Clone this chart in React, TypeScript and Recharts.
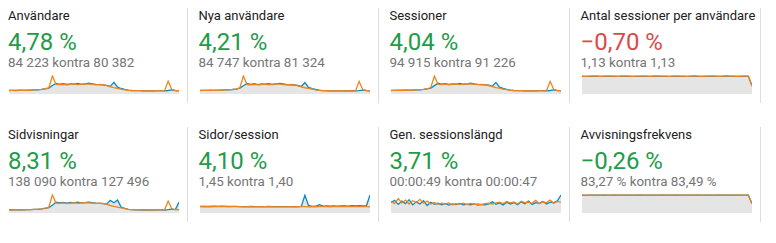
import { ComposedChart, Area, Line, XAxis, YAxis } from "recharts";

const titles = [
  "Användare",
  "Nya användare",
  "Sessioner",
  "Antal sessioner per användare",
  "Sidvisningar",
  "Sidor/session",
  "Gen. sessionslängd",
  "Avvisningsfrekvens",
];
const changes = ["4,78 %", "4,21 %", "4,04 %", "−0,70 %", "8,31 %", "4,10 %", "3,71 %", "−0,26 %"];
const positive = [true, true, true, false, true, true, true, true];
const compares = [
  "84 223 kontra 80 382",
  "84 747 kontra 81 324",
  "94 915 kontra 91 226",
  "1,13 kontra 1,13",
  "138 090 kontra 127 496",
  "1,45 kontra 1,40",
  "00:00:49 kontra 00:00:47",
  "83,27 % kontra 83,49 %",
];

// current period (blue) and previous period (orange), one value per step
const usersCur = [340, 350, 330, 360, 350, 370, 360, 380, 400, 430, 480, 560, 800, 1000, 920, 980, 900, 960, 930, 990, 910, 950, 1020, 960, 900, 880, 860, 820, 720, 1100, 640, 520, 430, 360, 330, 320, 310, 300, 310, 290, 300, 320, 310, 300, 330, 380, 320, 300];
const usersPrev = [330, 340, 350, 340, 360, 350, 370, 390, 410, 440, 500, 580, 1700, 900, 880, 920, 860, 900, 950, 880, 920, 960, 940, 900, 870, 900, 880, 780, 680, 600, 540, 460, 400, 350, 320, 310, 320, 300, 310, 300, 290, 310, 300, 320, 1200, 420, 340, 310];
const newCur = [340, 345, 335, 355, 350, 365, 360, 385, 395, 425, 470, 560, 780, 990, 910, 970, 890, 950, 925, 985, 900, 945, 1010, 950, 895, 870, 850, 810, 710, 1080, 630, 510, 425, 355, 325, 315, 305, 300, 305, 290, 295, 315, 305, 300, 325, 370, 315, 300];
const newPrev = [330, 335, 345, 340, 355, 345, 365, 385, 405, 435, 490, 570, 1700, 890, 870, 915, 855, 895, 940, 875, 915, 955, 930, 895, 865, 895, 875, 770, 670, 590, 535, 455, 395, 345, 315, 305, 315, 295, 305, 295, 285, 305, 295, 315, 1180, 410, 335, 305];
const sessCur = [370, 380, 365, 390, 385, 400, 395, 420, 435, 470, 520, 610, 860, 1100, 1010, 1070, 990, 1050, 1020, 1080, 1000, 1040, 1120, 1050, 990, 960, 940, 900, 790, 1190, 700, 570, 470, 395, 360, 350, 340, 330, 340, 320, 330, 350, 340, 330, 360, 420, 350, 330];
const sessPrev = [360, 370, 385, 375, 395, 385, 405, 430, 450, 485, 550, 640, 1850, 990, 970, 1010, 950, 990, 1040, 970, 1010, 1050, 1030, 990, 955, 990, 965, 860, 750, 660, 595, 505, 440, 385, 350, 340, 350, 330, 340, 330, 320, 340, 330, 350, 1300, 460, 375, 340];
const spuCur = [1.12, 1.13, 1.12, 1.13, 1.14, 1.13, 1.12, 1.13, 1.13, 1.12, 1.13, 1.14, 1.13, 1.12, 1.13, 1.12, 1.13, 1.13, 1.12, 1.13, 1.14, 1.13, 1.12, 1.13, 1.12, 1.13, 1.13, 1.12, 1.13, 1.12, 1.13, 1.14, 1.13, 1.12, 1.13, 1.13, 1.12, 1.13, 1.12, 1.13, 1.14, 1.13, 1.12, 1.13, 1.12, 1.13, 1.12, 0.55];
const spuPrev = [1.14, 1.13, 1.14, 1.15, 1.14, 1.13, 1.14, 1.15, 1.14, 1.14, 1.13, 1.14, 1.15, 1.14, 1.13, 1.14, 1.14, 1.15, 1.14, 1.13, 1.14, 1.15, 1.14, 1.14, 1.13, 1.14, 1.15, 1.14, 1.14, 1.13, 1.14, 1.15, 1.14, 1.13, 1.14, 1.14, 1.15, 1.14, 1.13, 1.14, 1.15, 1.14, 1.14, 1.13, 1.14, 1.15, 1.14, 0.5];
const pvCur = [520, 540, 510, 550, 530, 560, 550, 590, 620, 680, 760, 900, 1300, 1800, 1700, 1780, 1650, 1750, 1700, 1800, 1680, 1740, 1820, 1720, 1650, 1600, 1560, 1480, 2100, 1700, 2150, 1000, 760, 620, 560, 540, 520, 500, 520, 490, 500, 530, 510, 500, 560, 650, 560, 1830];
const pvPrev = [500, 520, 540, 530, 550, 540, 570, 600, 640, 700, 820, 950, 3000, 1650, 1600, 1680, 1580, 1650, 1720, 1620, 1680, 1740, 1700, 1650, 1600, 1640, 1600, 1420, 1250, 1100, 980, 840, 720, 620, 560, 540, 550, 520, 530, 510, 500, 520, 510, 540, 2000, 700, 580, 540];
const psCur = [1.46, 1.44, 1.48, 1.45, 1.5, 1.47, 1.52, 1.46, 1.44, 1.47, 1.45, 1.43, 1.4, 1.42, 1.44, 1.41, 1.43, 1.4, 1.42, 1.44, 1.41, 1.43, 1.4, 1.42, 1.41, 1.43, 1.4, 1.42, 1.45, 3.95, 1.7, 1.48, 1.5, 1.85, 1.52, 1.55, 1.5, 1.58, 1.53, 1.56, 1.6, 1.54, 1.62, 1.57, 1.64, 1.58, 1.6, 4.0];
const psPrev = [1.42, 1.44, 1.41, 1.46, 1.43, 1.45, 1.42, 1.44, 1.41, 1.43, 1.4, 1.42, 1.36, 1.39, 1.41, 1.38, 1.4, 1.37, 1.39, 1.41, 1.38, 1.4, 1.37, 1.39, 1.38, 1.4, 1.37, 1.39, 1.4, 1.41, 1.38, 1.4, 1.39, 1.41, 1.4, 1.42, 1.39, 1.41, 1.4, 1.43, 1.41, 1.42, 1.4, 1.43, 1.41, 1.42, 1.4, 1.38];
const durCur = [58, 70, 48, 66, 52, 74, 45, 62, 50, 68, 42, 60, 48, 55, 46, 52, 44, 50, 47, 53, 45, 49, 46, 51, 44, 48, 46, 50, 62, 48, 56, 44, 60, 50, 58, 46, 62, 52, 66, 48, 58, 54, 64, 50, 60, 56, 68, 100];
const durPrev = [64, 52, 80, 56, 72, 50, 68, 58, 76, 54, 66, 50, 58, 48, 54, 50, 56, 46, 52, 49, 55, 47, 53, 48, 50, 46, 52, 54, 50, 56, 60, 52, 64, 56, 62, 50, 66, 58, 60, 54, 70, 52, 62, 58, 72, 54, 64, 60];
const bounceCur = [83.1, 82.6, 83.4, 82.9, 83.5, 83.0, 82.7, 83.3, 83.1, 83.6, 83.2, 83.4, 83.0, 83.5, 83.3, 83.1, 83.6, 83.2, 83.4, 83.0, 83.5, 83.3, 83.7, 83.2, 83.4, 83.1, 83.6, 83.3, 83.5, 83.0, 83.4, 83.2, 83.6, 83.3, 83.1, 83.5, 83.4, 83.2, 83.6, 83.3, 83.5, 83.1, 83.4, 83.6, 83.2, 83.5, 83.3, 44];
const bouncePrev = [83.4, 83.2, 83.6, 83.3, 83.7, 83.4, 83.2, 83.5, 83.6, 83.8, 83.4, 83.6, 83.3, 83.7, 83.5, 83.4, 83.8, 83.5, 83.6, 83.3, 83.7, 83.5, 83.9, 83.4, 83.6, 83.4, 83.8, 83.5, 83.7, 83.3, 83.6, 83.5, 83.8, 83.5, 83.4, 83.7, 83.6, 83.4, 83.8, 83.5, 83.7, 83.4, 83.6, 83.9, 83.5, 83.7, 83.5, 42];

const currentSeries = [usersCur, newCur, sessCur, spuCur, pvCur, psCur, durCur, bounceCur];
const previousSeries = [usersPrev, newPrev, sessPrev, spuPrev, pvPrev, psPrev, durPrev, bouncePrev];

const GREEN = "#1e9c48";
const RED = "#db4a4a";
const FONT = "Roboto, 'Noto Sans', Arial, sans-serif";

function Spark({ cur, prev }: { cur: number[]; prev: number[] }) {
  const data = cur.map((v, i) => ({ i, cur: v, prev: prev[i] }));
  return (
    <ComposedChart width={170} height={19} data={data} margin={{ top: 1, right: 0, bottom: 0, left: 0 }}>
      <XAxis dataKey="i" hide />
      <YAxis hide domain={[0, "dataMax"]} />
      <Area
        type="linear"
        dataKey="cur"
        stroke="#058dc7"
        strokeWidth={1.3}
        fill="#e5e5e5"
        fillOpacity={1}
        dot={false}
        activeDot={false}
        isAnimationActive={false}
      />
      <Line
        type="linear"
        dataKey="prev"
        stroke="#ec851f"
        strokeWidth={1.3}
        dot={false}
        activeDot={false}
        isAnimationActive={false}
      />
    </ComposedChart>
  );
}

export default function App() {
  return (
    <div style={{ position: "relative", width: 760, height: 227, fontFamily: FONT }}>
      {titles.map((title, k) => {
        const col = k % 4;
        const row = Math.floor(k / 4);
        return (
          <div
            key={title}
            style={{
              position: "absolute",
              left: col * 191 - (col > 0 ? 0.5 : 0),
              top: row * 119,
              width: 179,
              height: 95,
              borderRight: "1px solid #dcdcdc",
            }}
          >
            <div style={{ position: "absolute", left: 0, top: 0, fontSize: 13, lineHeight: "16px", color: "#212121", whiteSpace: "nowrap" }}>
              {title}
            </div>
            <div
              style={{
                position: "absolute",
                left: 0,
                top: 20,
                fontSize: 24,
                lineHeight: "28px",
                color: positive[k] ? GREEN : RED,
                whiteSpace: "nowrap",
              }}
            >
              {changes[k]}
            </div>
            <div style={{ position: "absolute", left: 0, top: 46.5, fontSize: 13.4, lineHeight: "16px", color: "#757575", whiteSpace: "nowrap" }}>
              {compares[k]}
            </div>
            <div style={{ position: "absolute", left: 1, top: 67 }}>
              <Spark cur={currentSeries[k]} prev={previousSeries[k]} />
            </div>
          </div>
        );
      })}
    </div>
  );
}
